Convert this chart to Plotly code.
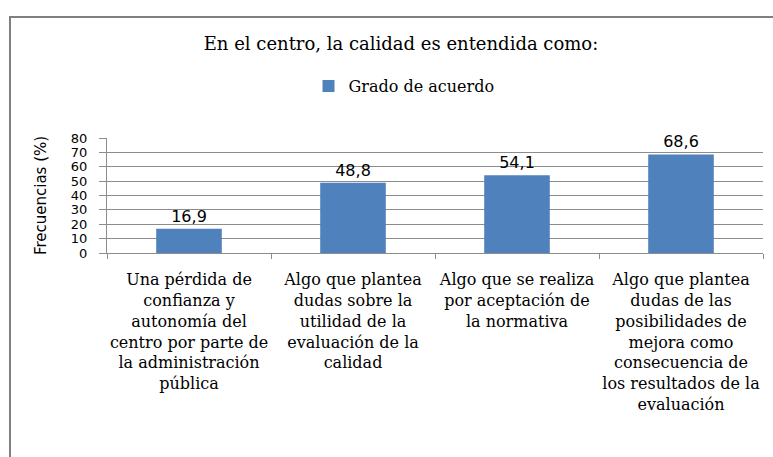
import plotly.graph_objects as go

categories = [
    "Una pérdida de<br>confianza y<br>autonomía del<br>centro por parte de<br>la administración<br>pública",
    "Algo que plantea<br>dudas sobre la<br>utilidad de la<br>evaluación de la<br>calidad",
    "Algo que se realiza<br>por aceptación de<br>la normativa",
    "Algo que plantea<br>dudas de las<br>posibilidades de<br>mejora como<br>consecuencia de<br>los resultados de la<br>evaluación",
]
values = [16.9, 48.8, 54.1, 68.6]
series_name = "Grado de acuerdo"
title_text = "En el centro, la calidad es entendida como:"
y_title = "Frecuencias (%)"
y_ticks = [0, 10, 20, 30, 40, 50, 60, 70, 80]

W, H = 773, 457
L, R, T, B = 107, 10, 138, 204
pw, ph = W - L - R, H - T - B

def px_x(x):
    return (x - L) / pw

def px_y(y):
    return 1 + (T - y) / ph

fig = go.Figure()
fig.add_trace(go.Bar(
    x=categories, y=values, name=series_name,
    marker=dict(color="#4F81BD", line=dict(width=0)),
    texttemplate="%{y:.1f}", textposition="outside",
    textfont=dict(family="DejaVu Sans", size=16, color="#000000"),
    cliponaxis=False,
))

grid = "#8C8C8C"
fig.update_layout(
    width=W, height=H,
    margin=dict(l=L, r=R, t=T, b=B, pad=0, autoexpand=False),
    paper_bgcolor="white", plot_bgcolor="white",
    separators=",.",
    bargap=0.6,
    showlegend=True,
    title=dict(text=title_text, x=401 / W, xanchor="center",
               y=1 - 44 / H, yanchor="middle", yref="container",
               font=dict(family="DejaVu Serif", size=18, color="#000000")),
    legend=dict(orientation="h", x=px_x(404), xanchor="center",
                y=px_y(86), yanchor="middle",
                font=dict(family="DejaVu Serif", size=16, color="#000000"),
                bgcolor="rgba(0,0,0,0)", itemwidth=30),
    xaxis=dict(
        type="category", tickson="boundaries", ticks="outside", ticklen=5,
        tickcolor=grid, showline=True, linecolor=grid, linewidth=1,
        showgrid=False, ticklabelstandoff=12, tickangle=0, automargin=False,
        tickfont=dict(family="DejaVu Serif", size=16, color="#000000"),
    ),
    yaxis=dict(
        range=[0, 80], tickvals=y_ticks, ticks="outside", ticklen=7,
        tickcolor=grid, showline=True, linecolor=grid, linewidth=1,
        showgrid=True, gridcolor=grid, gridwidth=1, zeroline=False,
        ticklabelstandoff=9, automargin=False,
        tickfont=dict(family="DejaVu Sans", size=13, color="#000000"),
        title=dict(text=y_title, standoff=20,
                   font=dict(family="DejaVu Sans", size=15, color="#000000")),
    ),
    shapes=[dict(type="rect", xref="paper", yref="paper",
                 x0=px_x(10), x1=px_x(790), y0=px_y(480), y1=px_y(17),
                 line=dict(color="#808080", width=2), fillcolor="rgba(0,0,0,0)",
                 layer="below")],
)

fig.write_html("out.html")
